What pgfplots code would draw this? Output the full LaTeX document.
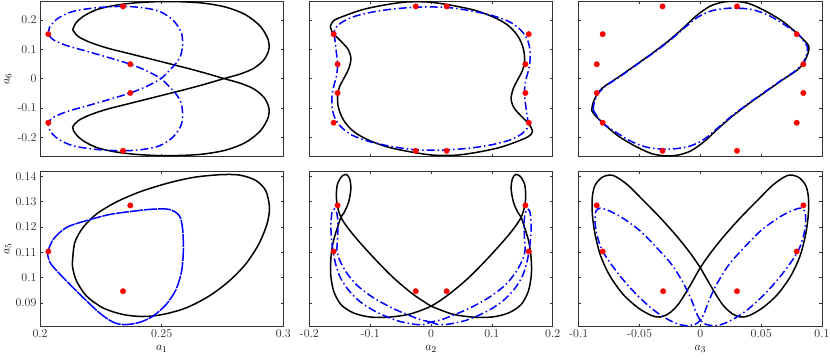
\documentclass[border=0pt]{standalone}
\usepackage{pgfplots}
\pgfplotsset{compat=1.18}
\usepgfplotslibrary{groupplots}
\usetikzlibrary{calc}

\pgfplotsset{
  panel/.style={
    scale only axis, width=243pt, height=155pt,
    tick align=inside, major tick length=2.5pt,
    axis line style={black!80, line width=0.6pt},
    tick style={black!80, line width=0.6pt},
    tick label style={font=\fontsize{12}{14}\selectfont, black!85},
    label style={font=\fontsize{12.5}{14}\selectfont},
    ylabel style={at={(axis description cs:-0.132,0.5)}, anchor=center},
  },
  blk/.style={black, line width=1.5pt, smooth, tension=0.5, no marks},
  blu/.style={blue, line width=1.5pt, smooth, tension=0.5, no marks,
    dash pattern=on 8pt off 3pt on 1.5pt off 3pt},
  dots/.style={only marks, mark=*, mark size=2.7pt, draw=red, fill=red},
}

\begin{document}
\begin{tikzpicture}
\begin{groupplot}[group style={group size=3 by 2, horizontal sep=26pt, vertical sep=15pt}, panel]

% ---- top left: a1 vs a6
\nextgroupplot[xmin=0.2, xmax=0.3, ymin=-0.265, ymax=0.265,
  xtick={0.2,0.25,0.3}, xticklabels={},
  ytick={-0.2,-0.1,0,0.1,0.2}, yticklabels={-0.2,-0.1,0,0.1,0.2},
  ylabel={$a_6$}]
\addplot[blk] coordinates {
(0.2134,0.1667) (0.2147,0.1895) (0.2177,0.2123) (0.2232,0.2352) (0.2300,0.2489)
(0.2382,0.2580) (0.2477,0.2626) (0.2572,0.2626) (0.2668,0.2580) (0.2763,0.2443)
(0.2845,0.2180) (0.2906,0.1781) (0.2938,0.1324) (0.2940,0.0982) (0.2920,0.0639)
(0.2879,0.0354) (0.2824,0.0160) (0.2756,0) (0.2681,-0.0183) (0.2600,-0.0365)
(0.2518,-0.0537) (0.2436,-0.0708) (0.2354,-0.0879) (0.2273,-0.1050) (0.2204,-0.1244)
(0.2157,-0.1438) (0.2134,-0.1667) (0.2147,-0.1895) (0.2177,-0.2123) (0.2232,-0.2352)
(0.2300,-0.2489) (0.2382,-0.2580) (0.2477,-0.2626) (0.2572,-0.2626) (0.2668,-0.2580)
(0.2763,-0.2443) (0.2845,-0.2180) (0.2906,-0.1781) (0.2938,-0.1324) (0.2940,-0.0982)
(0.2920,-0.0639) (0.2879,-0.0354) (0.2824,-0.0160) (0.2756,0) (0.2681,0.0183)
(0.2600,0.0365) (0.2518,0.0537) (0.2436,0.0708) (0.2354,0.0879) (0.2273,0.1050)
(0.2204,0.1244) (0.2157,0.1438) (0.2134,0.1667)
};
\addplot[blu] coordinates {
(0.2034,0.1518) (0.2041,0.1781) (0.2075,0.2066) (0.2136,0.2295) (0.2232,0.2420)
(0.2341,0.2466) (0.2422,0.2420) (0.2491,0.2295) (0.2545,0.2009) (0.2579,0.1610)
(0.2586,0.1210) (0.2579,0.0811) (0.2559,0.0525) (0.2531,0.0274) (0.2497,0)
(0.2436,-0.0274) (0.2371,-0.0491) (0.2286,-0.0708) (0.2191,-0.0936) (0.2109,-0.1130)
(0.2055,-0.1324) (0.2034,-0.1518) (0.2041,-0.1781) (0.2075,-0.2066) (0.2136,-0.2295)
(0.2232,-0.2420) (0.2341,-0.2466) (0.2422,-0.2420) (0.2491,-0.2295) (0.2545,-0.2009)
(0.2579,-0.1610) (0.2586,-0.1210) (0.2579,-0.0811) (0.2559,-0.0525) (0.2531,-0.0274)
(0.2497,0) (0.2436,0.0274) (0.2371,0.0491) (0.2286,0.0708) (0.2191,0.0936)
(0.2109,0.1130) (0.2055,0.1324) (0.2034,0.1518)
};
\addplot[dots] coordinates {
(0.2034,0.1518) (0.2341,0.2466) (0.2371,0.0491) (0.2371,-0.0491) (0.2034,-0.1507) (0.2341,-0.2466)
};

% ---- top middle: a2 vs a6
\nextgroupplot[xmin=-0.2, xmax=0.2, ymin=-0.265, ymax=0.265,
  xtick={-0.2,-0.1,0,0.1,0.2}, xticklabels={},
  ytick={-0.2,-0.1,0,0.1,0.2}, yticklabels={}]
\addplot[blk] coordinates {
(-0.1656,0.1781) (-0.1612,0.1553) (-0.1492,0.1301) (-0.1366,0.1005) (-0.1317,0.0696)
(-0.1350,0.0354) (-0.1426,0.0034) (-0.1503,-0.0274) (-0.1536,-0.0559) (-0.1530,-0.0902)
(-0.1481,-0.1244) (-0.1393,-0.1553) (-0.1246,-0.1849) (-0.1027,-0.2100) (-0.0727,-0.2329)
(-0.0344,-0.2500) (0.0038,-0.2614) (0.0421,-0.2614) (0.0803,-0.2500) (0.1131,-0.2352)
(0.1404,-0.2158) (0.1596,-0.1986) (0.1667,-0.1815) (0.1612,-0.1553) (0.1492,-0.1301)
(0.1366,-0.1005) (0.1317,-0.0696) (0.1350,-0.0354) (0.1426,-0.0034) (0.1503,0.0274)
(0.1536,0.0559) (0.1530,0.0902) (0.1481,0.1244) (0.1393,0.1553) (0.1246,0.1849)
(0.1027,0.2100) (0.0727,0.2329) (0.0344,0.2500) (-0.0038,0.2614) (-0.0421,0.2614)
(-0.0803,0.2500) (-0.1131,0.2352) (-0.1404,0.2158) (-0.1596,0.1986) (-0.1656,0.1781)
};
\addplot[blu] coordinates {
(-0.1590,0.1518) (-0.1568,0.1096) (-0.1536,0.0491) (-0.1557,0.0068) (-0.1601,-0.0274)
(-0.1628,-0.0616) (-0.1628,-0.0959) (-0.1585,-0.1324) (-0.1481,-0.1644) (-0.1301,-0.1929)
(-0.1000,-0.2158) (-0.0617,-0.2329) (-0.0251,-0.2432) (0.0148,-0.2443) (0.0585,-0.2386)
(0.0967,-0.2272) (0.1295,-0.2100) (0.1486,-0.1895) (0.1579,-0.1701) (0.1596,-0.1518)
(0.1568,-0.1096) (0.1536,-0.0491) (0.1557,-0.0068) (0.1601,0.0274) (0.1628,0.0616)
(0.1628,0.0959) (0.1585,0.1324) (0.1481,0.1644) (0.1301,0.1929) (0.1000,0.2158)
(0.0617,0.2329) (0.0251,0.2432) (-0.0148,0.2443) (-0.0585,0.2386) (-0.0967,0.2272)
(-0.1295,0.2100) (-0.1486,0.1895) (-0.1579,0.1701) (-0.1590,0.1518)
};
\addplot[dots] coordinates {
(-0.1601,0.1518) (-0.1536,0.0491) (-0.1536,-0.0491) (-0.1601,-0.1507)
(-0.0251,0.2466) (0.0257,0.2466) (0.1607,0.1518) (0.1552,0.0491)
(0.1552,-0.0491) (0.1607,-0.1507) (-0.0251,-0.2466) (0.0257,-0.2466)
};

% ---- top right: a3 vs a6
\nextgroupplot[xmin=-0.1, xmax=0.1, ymin=-0.265, ymax=0.265,
  xtick={-0.1,-0.05,0,0.05,0.1}, xticklabels={},
  ytick={-0.2,-0.1,0,0.1,0.2}, yticklabels={}]
\addplot[blk] coordinates {
(-0.0893,-0.1096) (-0.0885,-0.0868) (-0.0852,-0.0559) (-0.0798,-0.0297) (-0.0675,0.0046)
(-0.0538,0.0445) (-0.0402,0.0845) (-0.0265,0.1279) (-0.0142,0.1724) (-0.0033,0.2146)
(0.0077,0.2466) (0.0186,0.2614) (0.0295,0.2637) (0.0404,0.2557) (0.0541,0.2295)
(0.0678,0.1952) (0.0792,0.1553) (0.0863,0.1267) (0.0893,0.1096) (0.0885,0.0868)
(0.0852,0.0559) (0.0798,0.0297) (0.0675,-0.0046) (0.0538,-0.0445) (0.0402,-0.0845)
(0.0265,-0.1279) (0.0142,-0.1724) (0.0033,-0.2146) (-0.0077,-0.2466) (-0.0186,-0.2614)
(-0.0295,-0.2637) (-0.0404,-0.2557) (-0.0541,-0.2295) (-0.0678,-0.1952) (-0.0792,-0.1553)
(-0.0863,-0.1267) (-0.0893,-0.1096)
};
\addplot[blu] coordinates {
(-0.0880,-0.1073) (-0.0874,-0.0845) (-0.0847,-0.0559) (-0.0784,-0.0274) (-0.0661,0.0068)
(-0.0525,0.0468) (-0.0388,0.0868) (-0.0251,0.1301) (-0.0142,0.1689) (-0.0033,0.2066)
(0.0077,0.2295) (0.0186,0.2386) (0.0295,0.2409) (0.0432,0.2352) (0.0568,0.2146)
(0.0705,0.1804) (0.0809,0.1495) (0.0861,0.1210) (0.0880,0.1073) (0.0874,0.0845)
(0.0847,0.0559) (0.0784,0.0274) (0.0661,-0.0068) (0.0525,-0.0468) (0.0388,-0.0868)
(0.0251,-0.1301) (0.0142,-0.1689) (0.0033,-0.2066) (-0.0077,-0.2295) (-0.0186,-0.2386)
(-0.0295,-0.2409) (-0.0432,-0.2352) (-0.0568,-0.2146) (-0.0705,-0.1804) (-0.0809,-0.1495)
(-0.0861,-0.1210) (-0.0880,-0.1073)
};
\addplot[dots] coordinates {
(-0.0311,0.2466) (0.0301,0.2466) (-0.0803,0.1518) (0.0792,0.1518)
(-0.0852,0.0491) (0.0847,0.0491) (-0.0852,-0.0491) (0.0847,-0.0491)
(-0.0803,-0.1507) (0.0792,-0.1507) (-0.0311,-0.2466) (0.0301,-0.2466)
};

% ---- bottom left: a1 vs a5
\nextgroupplot[xmin=0.2, xmax=0.3, ymin=0.0807, ymax=0.142,
  xtick={0.2,0.25,0.3}, xticklabels={0.2,0.25,0.3},
  ytick={0.09,0.1,0.11,0.12,0.13,0.14}, yticklabels={0.09,0.1,0.11,0.12,0.13,0.14},
  xlabel={$a_1$}, ylabel={$a_5$}]
\addplot[blk] coordinates {
(0.2134,0.1072) (0.2143,0.1139) (0.2177,0.1198) (0.2232,0.1251) (0.2313,0.1298)
(0.2409,0.1338) (0.2518,0.1371) (0.2627,0.1395) (0.2736,0.1406) (0.2818,0.1405)
(0.2886,0.1384) (0.2927,0.1344) (0.2943,0.1278) (0.2933,0.1212) (0.2899,0.1132)
(0.2845,0.1053) (0.2777,0.0986) (0.2695,0.0927) (0.2600,0.0880) (0.2504,0.0854)
(0.2422,0.0846) (0.2341,0.0854) (0.2259,0.0880) (0.2191,0.0927) (0.2150,0.0986)
(0.2134,0.1039) (0.2134,0.1072)
};
\addplot[blue, line width=1.5pt, smooth, tension=0.5, no marks, dash pattern=on 13pt off 1pt] coordinates {
(0.2030,0.1099) (0.2055,0.1152) (0.2109,0.1198) (0.2191,0.1225) (0.2286,0.1249)
(0.2382,0.1262) (0.2463,0.1270) (0.2531,0.1269) (0.2572,0.1245) (0.2586,0.1192)
(0.2589,0.1106) (0.2582,0.1026) (0.2559,0.0953) (0.2518,0.0893) (0.2463,0.0847)
(0.2409,0.0823) (0.2348,0.0814) (0.2300,0.0824) (0.2245,0.0860) (0.2164,0.0933)
(0.2082,0.1013) (0.2041,0.1059) (0.2030,0.1099)
};
\addplot[dots] coordinates {
(0.2034,0.1103) (0.2371,0.1285) (0.2341,0.0946)
};

% ---- bottom middle: a2 vs a5
\nextgroupplot[xmin=-0.2, xmax=0.2, ymin=0.0807, ymax=0.142,
  xtick={-0.2,-0.1,0,0.1,0.2}, xticklabels={-0.2,-0.1,0,0.1,0.2},
  ytick={0.09,0.1,0.11,0.12,0.13,0.14}, yticklabels={},
  xlabel={$a_2$}]
\addplot[blk] coordinates {
(0,0.0887) (-0.0290,0.0933) (-0.0617,0.0999) (-0.0945,0.1079) (-0.1219,0.1152)
(-0.1383,0.1201) (-0.1481,0.1238) (-0.1536,0.1278) (-0.1557,0.1324) (-0.1536,0.1371)
(-0.1464,0.1400) (-0.1393,0.1407) (-0.1339,0.1391) (-0.1317,0.1351) (-0.1355,0.1298)
(-0.1426,0.1258) (-0.1481,0.1238) (-0.1546,0.1192) (-0.1610,0.1139) (-0.1645,0.1079)
(-0.1650,0.1013) (-0.1600,0.0946) (-0.1480,0.0893) (-0.1273,0.0860) (-0.1000,0.0844)
(-0.0672,0.0844) (-0.0344,0.0856) (0,0.0887)
(0.0290,0.0933) (0.0617,0.0999) (0.0945,0.1079) (0.1219,0.1152)
(0.1383,0.1201) (0.1481,0.1238) (0.1536,0.1278) (0.1557,0.1324) (0.1536,0.1371)
(0.1464,0.1400) (0.1393,0.1407) (0.1339,0.1391) (0.1317,0.1351) (0.1355,0.1298)
(0.1426,0.1258) (0.1481,0.1238) (0.1546,0.1192) (0.1610,0.1139) (0.1645,0.1079)
(0.1650,0.1013) (0.1600,0.0946) (0.1480,0.0893) (0.1273,0.0860) (0.1000,0.0844)
(0.0672,0.0844) (0.0344,0.0856) (0,0.0887)
};
\addplot[blu] coordinates {
(0,0.0824) (-0.0148,0.0832) (-0.0290,0.0844) (-0.0617,0.0877) (-0.0945,0.0920)
(-0.1219,0.0970) (-0.1399,0.1023) (-0.1508,0.1072) (-0.1546,0.1108) (-0.1536,0.1159)
(-0.1530,0.1212) (-0.1546,0.1251) (-0.1585,0.1271) (-0.1628,0.1258) (-0.1645,0.1212)
(-0.1639,0.1159) (-0.1612,0.1106) (-0.1574,0.1059) (-0.1503,0.1006) (-0.1366,0.0953)
(-0.1164,0.0904) (-0.0891,0.0863) (-0.0563,0.0830) (-0.0290,0.0816) (-0.0126,0.0814)
(0,0.0824)
(0.0148,0.0832) (0.0290,0.0844) (0.0617,0.0877) (0.0945,0.0920)
(0.1219,0.0970) (0.1399,0.1023) (0.1508,0.1072) (0.1546,0.1108) (0.1536,0.1159)
(0.1530,0.1212) (0.1546,0.1251) (0.1585,0.1271) (0.1628,0.1258) (0.1645,0.1212)
(0.1639,0.1159) (0.1612,0.1106) (0.1574,0.1059) (0.1503,0.1006) (0.1366,0.0953)
(0.1164,0.0904) (0.0891,0.0863) (0.0563,0.0830) (0.0290,0.0816) (0.0126,0.0814)
(0,0.0824)
};
\addplot[dots] coordinates {
(-0.1536,0.1285) (-0.1601,0.1103) (-0.0251,0.0946) (0.0257,0.0946) (0.1552,0.1285) (0.1607,0.1103)
};

% ---- bottom right: a3 vs a5
\nextgroupplot[xmin=-0.1, xmax=0.1, ymin=0.0807, ymax=0.142,
  xtick={-0.1,-0.05,0,0.05,0.1}, xticklabels={-0.1,-0.05,0,0.05,0.1},
  ytick={0.09,0.1,0.11,0.12,0.13,0.14}, yticklabels={},
  xlabel={$a_3$}]
\addplot[blk] coordinates {
(0,0.1039) (-0.0087,0.1099) (-0.0197,0.1165) (-0.0333,0.1238) (-0.0470,0.1305)
(-0.0593,0.1364) (-0.0689,0.1397) (-0.0743,0.1405) (-0.0811,0.1395) (-0.0866,0.1364)
(-0.0888,0.1318) (-0.0888,0.1251) (-0.0866,0.1172) (-0.0820,0.1086) (-0.0743,0.1006)
(-0.0634,0.0933) (-0.0511,0.0880) (-0.0402,0.0850) (-0.0333,0.0844) (-0.0265,0.0856)
(-0.0183,0.0893) (-0.0087,0.0966) (0,0.1039)
(0.0087,0.1099) (0.0197,0.1165) (0.0333,0.1238) (0.0470,0.1305)
(0.0593,0.1364) (0.0689,0.1397) (0.0743,0.1405) (0.0811,0.1395) (0.0866,0.1364)
(0.0888,0.1318) (0.0888,0.1251) (0.0866,0.1172) (0.0820,0.1086) (0.0743,0.1006)
(0.0634,0.0933) (0.0511,0.0880) (0.0402,0.0850) (0.0333,0.0844) (0.0265,0.0856)
(0.0183,0.0893) (0.0087,0.0966) (0,0.1039)
};
\addplot[blu] coordinates {
(0,0.0831) (-0.0033,0.0860) (-0.0074,0.0913) (-0.0142,0.0980) (-0.0238,0.1053)
(-0.0361,0.1119) (-0.0497,0.1185) (-0.0648,0.1238) (-0.0757,0.1265) (-0.0825,0.1274)
(-0.0858,0.1262) (-0.0866,0.1225) (-0.0852,0.1172) (-0.0811,0.1112) (-0.0743,0.1059)
(-0.0648,0.0999) (-0.0525,0.0933) (-0.0388,0.0873) (-0.0265,0.0834) (-0.0169,0.0814)
(-0.0101,0.0810) (-0.0041,0.0816) (0,0.0831)
(0.0033,0.0860) (0.0074,0.0913) (0.0142,0.0980) (0.0238,0.1053)
(0.0361,0.1119) (0.0497,0.1185) (0.0648,0.1238) (0.0757,0.1265) (0.0825,0.1274)
(0.0858,0.1262) (0.0866,0.1225) (0.0852,0.1172) (0.0811,0.1112) (0.0743,0.1059)
(0.0648,0.0999) (0.0525,0.0933) (0.0388,0.0873) (0.0265,0.0834) (0.0169,0.0814)
(0.0101,0.0810) (0.0041,0.0816) (0,0.0831)
};
\addplot[dots] coordinates {
(-0.0852,0.1285) (-0.0803,0.1103) (-0.0306,0.0946) (0.0301,0.0946) (0.0847,0.1285) (0.0792,0.1103)
};
\end{groupplot}
\pgfresetboundingbox
\path ($(group c1r1.north west)+(-40pt,1pt)$) rectangle ($(group c3r2.south east)+(8pt,-33pt)$);
\end{tikzpicture}
\end{document}
